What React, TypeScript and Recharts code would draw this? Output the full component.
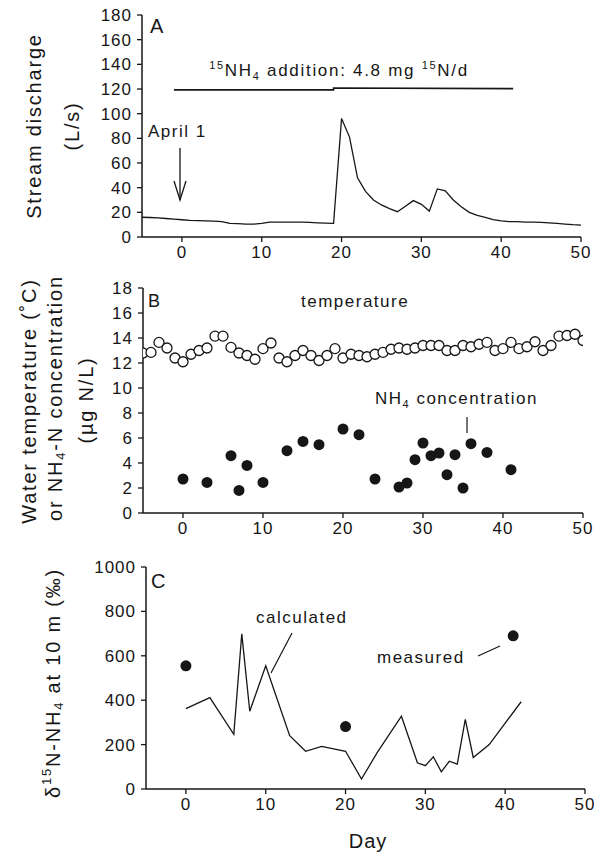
import React from 'react';
import { ComposedChart, Line, Scatter, XAxis, YAxis } from 'recharts';

const FONT = '"Liberation Sans", Arial, Helvetica, sans-serif';
const INK = '#161616';

// ---- Panel A: stream discharge (L/s) ----
const dischargeDays = [-5, -4, -3, -2, -1, 0, 1, 2, 3, 4, 5, 6, 7, 8, 9, 10, 11, 12, 13, 14, 15, 16, 17, 18, 19, 20, 21, 22, 23, 24, 25, 26, 27, 28, 29, 30, 31, 32, 33, 34, 35, 36, 37, 38, 39, 40, 41, 42, 43, 44, 45, 46, 47, 48, 49, 50];
const dischargeValues = [16, 15.8, 15.5, 15, 14.5, 14, 13.5, 13.2, 13, 12.8, 12.4, 11, 10.8, 10.5, 10.5, 11, 12, 12, 12, 12, 12, 11.8, 11.5, 11.2, 11, 96, 81, 48, 37, 30, 26, 23, 20.5, 25, 29.5, 26.5, 21, 39, 37.5, 30, 24.5, 20, 17.5, 16, 14, 13, 12.5, 12.5, 12, 12, 11.8, 11.5, 11, 10.5, 10, 9.7];
const additionDays = [-1, 19, 19, 41.5];
const additionValues = [119.3, 119.3, 120.8, 120.3];
const dischargeTicks = [0, 20, 40, 60, 80, 100, 120, 140, 160, 180];

// ---- Panel B: water temperature and NH4-N concentration ----
const tempDays = [-5, -4, -3, -2, -1, 0, 1, 2, 3, 4, 5, 6, 7, 8, 9, 10, 11, 12, 13, 14, 15, 16, 17, 18, 19, 20, 21, 22, 23, 24, 25, 26, 27, 28, 29, 30, 31, 32, 33, 34, 35, 36, 37, 38, 39, 40, 41, 42, 43, 44, 45, 46, 47, 48, 49, 50];
const tempValues = [12.8, 12.85, 13.65, 13.2, 12.4, 12.1, 12.7, 13.0, 13.2, 14.15, 14.15, 13.25, 12.8, 12.6, 12.3, 13.15, 13.6, 12.4, 12.1, 12.6, 13.0, 12.6, 12.2, 12.6, 13.15, 12.4, 12.7, 12.6, 12.5, 12.7, 12.85, 13.1, 13.2, 13.1, 13.2, 13.4, 13.4, 13.4, 13.0, 13.0, 13.4, 13.3, 13.5, 13.65, 13.0, 13.15, 13.65, 13.15, 13.3, 13.7, 13.0, 13.4, 14.15, 14.2, 14.3, 13.8];
const nh4Days = [0, 3, 6, 7, 8, 10, 13, 15, 17, 20, 22, 24, 27, 28, 29, 30, 31, 32, 33, 34, 35, 36, 38, 41];
const nh4Values = [2.72, 2.45, 4.59, 1.81, 3.81, 2.45, 4.99, 5.73, 5.47, 6.72, 6.27, 2.72, 2.08, 2.4, 4.27, 5.6, 4.59, 4.8, 3.07, 4.67, 2.0, 5.55, 4.85, 3.47];
const tempTicks = [0, 2, 4, 6, 8, 10, 12, 14, 16, 18];

// ---- Panel C: d15N-NH4 at 10 m ----
const calcDays = [0, 3, 6, 7, 8, 10, 13, 15, 17, 20, 22, 24, 27, 29, 30, 31, 32, 33, 34, 35, 36, 38, 42];
const calcValues = [362, 412, 246, 699, 350, 555, 240, 170, 192, 170, 45, 166, 328, 118, 105, 145, 77, 125, 112, 314, 142, 200, 393];
const measDays = [0, 20, 41];
const measValues = [555, 281, 690];
const deltaTicks = [0, 200, 400, 600, 800, 1000];

const dayTicks = [0, 10, 20, 30, 40, 50];

const zip = (xs: number[], ys: number[], key: string) => xs.map((d, i) => ({ day: d, [key]: ys[i] }));

const dischargeData = zip(dischargeDays, dischargeValues, 'q');
const additionData = zip(additionDays, additionValues, 'q');
const tempData = zip(tempDays, tempValues, 'v');
const nh4Data = zip(nh4Days, nh4Values, 'v');
const calcData = zip(calcDays, calcValues, 'v');
const measData = zip(measDays, measValues, 'v');

const tickStyle = { fill: INK, fontSize: 17, fontFamily: FONT, letterSpacing: 1 };
const axisLine = { stroke: INK, strokeWidth: 1.5 };
const tickLine = { stroke: INK, strokeWidth: 1.3 };

const xAxisEl = (
  <XAxis
    type="number"
    dataKey="day"
    domain={[-5, 50]}
    ticks={dayTicks}
    interval={0}
    allowDataOverflow
    tick={tickStyle}
    axisLine={axisLine}
    tickLine={tickLine}
    tickSize={5}
    tickMargin={4}
    height={30}
  />
);

const openCircle = (p: any) => (
  <circle cx={p.cx} cy={p.cy} r={5} fill="#fff" stroke={INK} strokeWidth={1.3} />
);
const filledCircle = (p: any) => <circle cx={p.cx} cy={p.cy} r={5.5} fill={INK} stroke="none" />;

const textBase = { fontFamily: FONT, fill: INK } as const;

export default function App() {
  return (
    <div style={{ position: 'absolute', left: 0, top: 0, width: 594, height: 858, background: '#fff' }}>
      {/* Panel A */}
      <div style={{ position: 'absolute', left: 0, top: 0 }}>
        <ComposedChart width={594} height={270} margin={{ top: 15, right: 13, bottom: 3, left: 0 }}>
          {xAxisEl}
          <YAxis
            type="number"
            domain={[0, 180]}
            ticks={dischargeTicks}
            interval={0}
            width={142}
            tick={tickStyle}
            axisLine={axisLine}
            tickLine={tickLine}
            tickSize={5}
            tickMargin={5}
          />
          <Line data={additionData} dataKey="q" stroke={INK} strokeWidth={1.6} dot={false} isAnimationActive={false} />
          <Line data={dischargeData} dataKey="q" stroke={INK} strokeWidth={1.3} dot={false} isAnimationActive={false} />
        </ComposedChart>
      </div>

      {/* Panel B */}
      <div style={{ position: 'absolute', left: 0, top: 270 }}>
        <ComposedChart width={594} height={290} margin={{ top: 18, right: 11, bottom: 17, left: 0 }}>
          {xAxisEl}
          <YAxis
            type="number"
            domain={[0, 18]}
            ticks={tempTicks}
            interval={0}
            width={143}
            tick={tickStyle}
            axisLine={axisLine}
            tickLine={tickLine}
            tickSize={5}
            tickMargin={5}
          />
          <Scatter data={tempData} dataKey="v" shape={openCircle} isAnimationActive={false} />
          <Scatter data={nh4Data} dataKey="v" shape={filledCircle} isAnimationActive={false} />
        </ComposedChart>
      </div>

      {/* Panel C */}
      <div style={{ position: 'absolute', left: 0, top: 548 }}>
        <ComposedChart width={594} height={310} margin={{ top: 19, right: 9, bottom: 39, left: 0 }}>
          {xAxisEl}
          <YAxis
            type="number"
            domain={[0, 1000]}
            ticks={deltaTicks}
            interval={0}
            width={146}
            tick={tickStyle}
            axisLine={axisLine}
            tickLine={tickLine}
            tickSize={5}
            tickMargin={5}
          />
          <Line data={calcData} dataKey="v" stroke={INK} strokeWidth={1.3} dot={false} isAnimationActive={false} />
          <Scatter data={measData} dataKey="v" shape={filledCircle} isAnimationActive={false} />
        </ComposedChart>
      </div>

      {/* Text overlay */}
      <svg width={594} height={858} style={{ position: 'absolute', left: 0, top: 0, pointerEvents: 'none' }}>
        {/* Panel A labels */}
        <text {...textBase} fontSize={20} letterSpacing={1.8} textAnchor="middle" dominantBaseline="central"
          transform="rotate(-90 34 126)" x={34} y={126}>Stream discharge</text>
        <text {...textBase} fontSize={20} letterSpacing={1.8} textAnchor="middle" dominantBaseline="central"
          transform="rotate(-90 72 126)" x={72} y={126}>(L/s)</text>
        <text {...textBase} fontSize={20} x={150} y={33}>A</text>
        <text {...textBase} fontSize={17} letterSpacing={1.7} x={339} y={76} textAnchor="middle">
          <tspan fontSize={11} dy={-7}>15</tspan>
          <tspan dy={7}>NH</tspan>
          <tspan fontSize={11} dy={4}>4</tspan>
          <tspan dy={-4}> addition: 4.8 mg </tspan>
          <tspan fontSize={11} dy={-7}>15</tspan>
          <tspan dy={7}>N/d</tspan>
        </text>
        <text {...textBase} fontSize={17} letterSpacing={1.5} x={148} y={137}>April 1</text>
        <line x1={180} y1={148} x2={180} y2={200} stroke={INK} strokeWidth={1.3} />
        <polyline points="174,181 180,200 186,181" fill="none" stroke={INK} strokeWidth={1.3} />

        {/* Panel B labels */}
        <text {...textBase} fontSize={20} letterSpacing={1.8} textAnchor="middle" dominantBaseline="central"
          transform="rotate(-90 29 401)" x={29} y={401}>Water temperature (˚C)</text>
        <text {...textBase} fontSize={20} letterSpacing={1.8} textAnchor="middle" dominantBaseline="central"
          transform="rotate(-90 55 398)" x={55} y={398}>
          <tspan>or NH</tspan>
          <tspan fontSize={13} dy={5}>4</tspan>
          <tspan dy={-5}>-N concentration</tspan>
        </text>
        <text {...textBase} fontSize={20} letterSpacing={1.8} textAnchor="middle" dominantBaseline="central"
          transform="rotate(-90 86 400)" x={86} y={400}>(µg N/L)</text>
        <text {...textBase} fontSize={18} x={148} y={307}>B</text>
        <text {...textBase} fontSize={17} letterSpacing={1.5} x={301} y={307}>temperature</text>
        <text {...textBase} fontSize={17} letterSpacing={1.5} x={375} y={404}>
          <tspan>NH</tspan>
          <tspan fontSize={11} dy={4}>4</tspan>
          <tspan dy={-4}> concentration</tspan>
        </text>
        <line x1={467} y1={417} x2={467} y2={433} stroke={INK} strokeWidth={1.2} />

        {/* Panel C labels */}
        <text {...textBase} fontSize={20} letterSpacing={1.8} textAnchor="middle" dominantBaseline="central"
          transform="rotate(-90 53 683)" x={53} y={683}>
          <tspan>δ</tspan>
          <tspan fontSize={13} dy={-7}>15</tspan>
          <tspan dy={7}>N-NH</tspan>
          <tspan fontSize={13} dy={5}>4</tspan>
          <tspan dy={-5}> at 10 m (‰)</tspan>
        </text>
        <text {...textBase} fontSize={20} x={151} y={588}>C</text>
        <text {...textBase} fontSize={17} letterSpacing={1.5} x={256} y={623}>calculated</text>
        <line x1={292} y1={633} x2={271} y2={673} stroke={INK} strokeWidth={1.2} />
        <text {...textBase} fontSize={17} letterSpacing={1.5} x={377} y={663}>measured</text>
        <line x1={478} y1={656} x2={500} y2={646} stroke={INK} strokeWidth={1.2} />
        <text {...textBase} fontSize={20} letterSpacing={1} x={368} y={848} textAnchor="middle">Day</text>
      </svg>
    </div>
  );
}
